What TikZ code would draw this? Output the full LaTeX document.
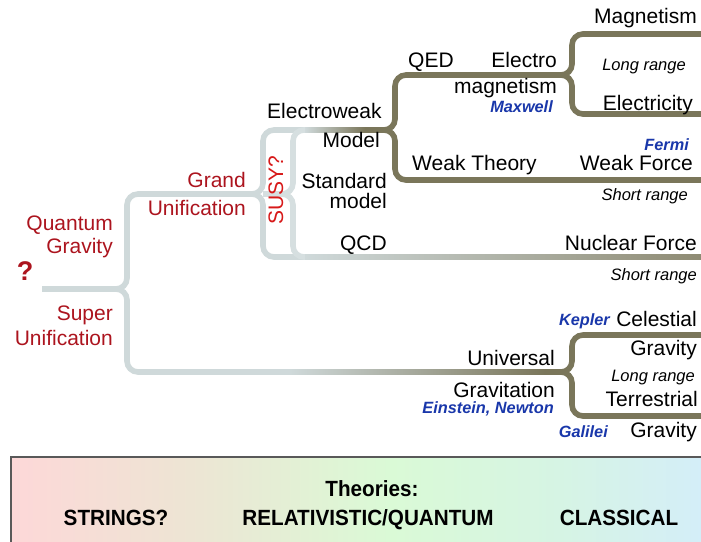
\documentclass[tikz,border=0pt]{standalone}
\usepackage{fontspec}
\setmainfont{Liberation Sans}
\usepackage{tikz}
\usetikzlibrary{calc}
\definecolor{branchLight}{RGB}{207,217,218}
\definecolor{branchOlive}{RGB}{122,118,90}
\definecolor{unifRed}{RGB}{172,20,30}
\definecolor{susyRed}{RGB}{215,25,25}
\definecolor{nameBlue}{RGB}{25,55,170}
\definecolor{bandPink}{RGB}{253,216,216}
\definecolor{bandBeige}{RGB}{238,228,212}
\definecolor{bandGreen}{RGB}{218,250,214}
\definecolor{bandMint}{RGB}{214,244,228}
\definecolor{bandCyan}{RGB}{212,238,248}
\newcommand{\gradseg}[4]{\shade[left color=#3, right color=#4] ($(#1)+(0,-2.8)$) rectangle ($(#2)+(0,2.8)$);}

\begin{document}
\begin{tikzpicture}[
    x=1pt, y=-1pt,
    every node/.style={inner sep=0pt},
    theory/.style={font=\fontsize{21}{25}\selectfont},
    unif/.style={font=\fontsize{21}{25}\selectfont, text=unifRed},
    reach/.style={font=\fontsize{16.5}{20}\selectfont\itshape},
    person/.style={font=\fontsize{16.3}{20}\selectfont\bfseries\itshape, text=nameBlue},
    band/.style={font=\fontsize{22}{26}\selectfont\bfseries},
    bandedge/.style={draw=black!65, line width=1.2pt},
    lightbranch/.style={draw=branchLight, line width=5.6pt, rounded corners=11pt},
    olivebranch/.style={draw=branchOlive, line width=5.6pt, rounded corners=11pt}
]
\useasboundingbox (0,0) rectangle (701,541);

% forks of the tree
\coordinate (root) at (42,289);
\coordinate (qg) at (127,289);
\coordinate (gu) at (263,194);
\coordinate (sm) at (293,194);
\coordinate (ew) at (395,130);
\coordinate (em) at (572,75);
\coordinate (ug) at (572,372);
\coordinate (ewfade) at (305,130);
\coordinate (ewdark) at (365,130);
\coordinate (qcdfade) at (305,257);
\coordinate (qcdend) at (701,257);
\coordinate (gravfade) at (290,372);
\coordinate (gravdark) at (545,372);

% theories band
\foreach \xa/\xb/\ca/\cb in {11/180/bandPink/bandBeige, 180/390/bandBeige/bandGreen, 390/560/bandGreen/bandMint, 560/701/bandMint/bandCyan}
  \shade[left color=\ca, right color=\cb] (\xa,457) rectangle (\xb,541);
\draw[bandedge] (11,457) rectangle (720,560);

% light branches
\draw[lightbranch] (root) -- (qg) -- (127,194) -- (gu) -- (263,130) -- (ewfade);
\draw[lightbranch] (root) -- (qg) -- (127,372) -- (gravfade);
\draw[lightbranch] (200,194) -- (gu) -- (263,257) -- (qcdfade);
\draw[lightbranch, draw=branchLight!85!white] (gu) -- (sm) -- (293,130) -- (ewfade);
\draw[lightbranch, draw=branchLight!85!white] (gu) -- (sm) -- (293,257) -- (qcdfade);

% fading parts
\gradseg{ewfade}{ewdark}{branchLight}{branchOlive}
\gradseg{qcdfade}{qcdend}{branchLight}{branchOlive!85!white}
\gradseg{gravfade}{gravdark}{branchLight}{branchOlive}

% olive branches
\draw[olivebranch] (ewdark) -- (ew) -- (395,75) -- (em) -- (572,34) -- (701,34);
\draw[olivebranch] (540,75) -- (em) -- (572,114) -- (701,114);
\draw[olivebranch] (ewdark) -- (ew) -- (395,180) -- (701,180);
\draw[olivebranch] (gravdark) -- (ug) -- (572,335) -- (701,335);
\draw[olivebranch] (gravdark) -- (ug) -- (572,416) -- (701,416);

% unification labels
\node[unif, font=\fontsize{27}{30}\selectfont\bfseries, anchor=base] (qmark) at (25,280) {?};
\node[unif, anchor=base east] (quantum) at (113,230) {Quantum};
\node[unif, anchor=base east] (gravityq) at (113,253) {Gravity};
\node[unif, anchor=base east] (super) at (113,320) {Super};
\node[unif, anchor=base east] (superunif) at (113,345) {Unification};
\node[unif, anchor=base east] (grand) at (246,187) {Grand};
\node[unif, anchor=base east] (grandunif) at (246,215) {Unification};
\node[unif, text=susyRed, rotate=90] (susy) at (276,190) {SUSY?};

% theories
\node[theory, anchor=base west] (electroweak) at (267,118) {Electroweak};
\node[theory, anchor=base east] (ewmodel) at (380,147) {Model};
\node[theory, anchor=base east] (standard) at (387,188) {Standard};
\node[theory, anchor=base east] (stdmodel) at (387,208) {model};
\node[theory, anchor=base east] (qcd) at (387,250) {QCD};
\node[theory, anchor=base west] (qed) at (408,67) {QED};
\node[theory, anchor=base east] (electro) at (557,67) {Electro};
\node[theory, anchor=base east] (magnetismem) at (557,93) {magnetism};
\node[person, anchor=base east] (maxwell) at (553,112) {Maxwell};
\node[theory, anchor=base west] (weaktheory) at (412,170) {Weak Theory};
\node[theory, anchor=base east] (universal) at (555,365) {Universal};
\node[theory, anchor=base east] (gravitation) at (555,397) {Gravitation};
\node[person, anchor=base east] (einstein) at (554,413) {Einstein, Newton};

% forces
\node[theory, anchor=base east] (magnetism) at (697,23) {Magnetism};
\node[reach, anchor=base] (longem) at (644,70) {Long range};
\node[theory, anchor=base east] (electricity) at (693,110) {Electricity};
\node[person, anchor=base east] (fermi) at (689,150) {Fermi};
\node[theory, anchor=base east] (weakforce) at (693,170) {Weak Force};
\node[reach, anchor=base east] (shortweak) at (688,200) {Short range};
\node[theory, anchor=base east] (nuclear) at (697,250) {Nuclear Force};
\node[reach, anchor=base east] (shortnuc) at (697,280) {Short range};
\node[person, anchor=base east] (kepler) at (610,325) {Kepler};
\node[theory, anchor=base east] (celestial) at (697,326) {Celestial};
\node[theory, anchor=base east] (gravityc) at (697,355) {Gravity};
\node[reach, anchor=base east] (longgrav) at (695,381) {Long range};
\node[theory, anchor=base east] (terrestrial) at (698,406) {Terrestrial};
\node[person, anchor=base east] (galilei) at (608,437) {Galilei};
\node[theory, anchor=base east] (gravityt) at (697,437) {Gravity};

% band texts
\node[band, anchor=base] (theories) at (372,496) {\scalebox{0.94}[1]{Theories:}};
\node[band, anchor=base] (strings) at (116,525) {\scalebox{0.94}[1]{STRINGS?}};
\node[band, anchor=base] (relquant) at (368,525) {\scalebox{0.94}[1]{RELATIVISTIC/QUANTUM}};
\node[band, anchor=base] (classical) at (619,525) {\scalebox{0.94}[1]{CLASSICAL}};
\end{tikzpicture}
\end{document}
